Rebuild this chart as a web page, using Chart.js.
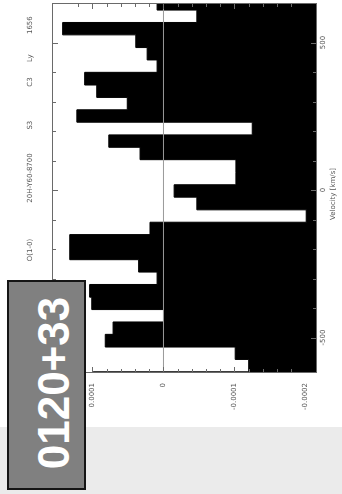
<!DOCTYPE html>
<html>
<head>
<meta charset="utf-8">
<script src="https://cdn.jsdelivr.net/npm/chart.js@4.4.0/dist/chart.umd.min.js"></script>
<style>
  html, body { margin: 0; padding: 0; background: #fff; }
  #wrap { position: relative; width: 342px; height: 494px; overflow: hidden; }
  #band { position: absolute; left: 0; top: 427px; width: 342px; height: 67px; background: #ebebeb; }
  #chart { position: absolute; left: 0; top: 0; filter: blur(0.5px); }
  #tag { position: absolute; left: 7px; top: 280px; width: 79px; height: 210px; box-sizing: border-box;
         background: #808080; border: 2px solid #151515; }
  #tag span { position: absolute; left: 45px; top: 101px; transform: translate(-50%, -50%) rotate(-90deg);
              font: bold 44px "Liberation Sans", Arial, sans-serif; line-height: 44px; color: #fff; white-space: nowrap; }
</style>
</head>
<body>
<div id="wrap">
  <div id="band"></div>
  <canvas id="chart" width="342" height="494"></canvas>
  <div id="tag"><span>0120+33</span></div>
</div>
<script>
// bin top edges (km/s), last entry closes the final bin
var velEdges = [652, 610, 568, 526, 483, 441, 399, 356, 314, 272, 230, 187, 145, 103, 60, 18,
  -24, -67, -109, -151, -193, -236, -278, -320, -363, -405, -447, -489, -532, -574, -616, -658];
// flux per bin, top to bottom
var fluxValues = [0.000009, -0.000047, 0.000142, 0.000039, 0.000023, 0.000009, 0.000111, 0.000094,
  0.000051, 0.000122, -0.000125, 0.000077, 0.000033, -0.000102, -0.000102, -0.000015,
  -0.000047, -0.000201, 0.000019, 0.000132, 0.000132, 0.000035, 0.000009, 0.000104,
  0.000101, 0.000000, 0.000071, 0.000082, -0.000101, -0.000120, 0.000099];

var fluxLabels = [0.0001, 0, -0.0001, -0.0002];
var fluxLabelText = ['0.0001', '0', '-0.0001', '-0.0002'];
var velLabels = [500, 0, -500];
var velLabelText = ['500', '0', '-500'];

// line identifications along the (rotated) top axis
var lineIds = ['1656', 'Ly', 'C3', 'S3', '20H-Y60-8700', 'O(1-0)'];
var lineIdVel = [559, 447, 366, 220, 41, -203];

var FLUX_MIN = -0.0002162, FLUX_MAX = 0.000157;
var VEL_MIN = -620, VEL_MAX = 634;

var spectrum = [];
for (var i = 0; i < fluxValues.length; i++) {
  spectrum.push({ x: fluxValues[i], y: velEdges[i] });
}
spectrum.push({ x: fluxValues[fluxValues.length - 1], y: velEdges[velEdges.length - 1] });

var framePlugin = {
  id: 'frame',
  afterDatasetsDraw: function(chart) {
    var ctx = chart.ctx, a = chart.chartArea;
    var xs = chart.scales.x, ys = chart.scales.y;
    ctx.save();
    ctx.strokeStyle = '#6a6a6a';
    ctx.lineWidth = 1;
    ctx.strokeRect(a.left + 0.5, a.top + 0.5, a.right - a.left - 1, a.bottom - a.top - 1);

    ctx.beginPath();
    xs.ticks.forEach(function(t) {
      var k = t.value / 0.00002;
      if (Math.abs(k - Math.round(k)) > 1e-6) return;
      var px = Math.round(xs.getPixelForValue(t.value)) + 0.5;
      var len = Math.round(k) % 5 === 0 ? 6 : 4;
      ctx.moveTo(px, a.top); ctx.lineTo(px, a.top + len);
      ctx.moveTo(px, a.bottom); ctx.lineTo(px, a.bottom - len);
    });
    ys.ticks.forEach(function(t) {
      if (t.value % 100 !== 0) return;
      var py = Math.round(ys.getPixelForValue(t.value)) + 0.5;
      var len = t.value % 500 === 0 ? 6 : 4;
      ctx.moveTo(a.left, py); ctx.lineTo(a.left + len, py);
      ctx.moveTo(a.right, py); ctx.lineTo(a.right - len, py);
    });
    ctx.stroke();

    ctx.fillStyle = '#555';
    ctx.font = '7px "DejaVu Sans"';
    ctx.textBaseline = 'middle';

    fluxLabels.forEach(function(v, i) {
      ctx.save();
      ctx.translate(xs.getPixelForValue(v), a.bottom + 10);
      ctx.rotate(-Math.PI / 2);
      ctx.textAlign = 'right';
      ctx.fillText(fluxLabelText[i], 0, 0);
      ctx.restore();
    });

    velLabels.forEach(function(v, i) {
      ctx.save();
      ctx.translate(a.right + 6, ys.getPixelForValue(v));
      ctx.rotate(-Math.PI / 2);
      ctx.textAlign = 'center';
      ctx.fillText(velLabelText[i], 0, 0);
      ctx.restore();
    });

    ctx.save();
    ctx.translate(a.right + 16, (a.top + a.bottom) / 2 + 6);
    ctx.rotate(-Math.PI / 2);
    ctx.textAlign = 'center';
    ctx.fillText('Velocity [km/s]', 0, 0);
    ctx.restore();

    lineIds.forEach(function(s, i) {
      ctx.save();
      ctx.translate(30, ys.getPixelForValue(lineIdVel[i]));
      ctx.rotate(-Math.PI / 2);
      ctx.textAlign = 'center';
      ctx.fillText(s, 0, 0);
      ctx.restore();
    });
    ctx.restore();
  }
};

new Chart(document.getElementById('chart'), {
  type: 'line',
  data: {
    datasets: [
      {
        data: [{ x: 0, y: VEL_MIN }, { x: 0, y: VEL_MAX }],
        borderColor: '#9a9a9a',
        borderWidth: 1,
        pointRadius: 0,
        fill: false,
        order: 0
      },
      {
        data: spectrum,
        stepped: 'after',
        borderColor: '#000',
        borderWidth: 1,
        backgroundColor: '#000',
        pointRadius: 0,
        fill: { value: FLUX_MIN },
        order: 1
      }
    ]
  },
  options: {
    indexAxis: 'y',
    responsive: false,
    animation: false,
    devicePixelRatio: 1,
    layout: { padding: { left: 52, top: 3, right: 25, bottom: 121 } },
    plugins: { legend: { display: false }, tooltip: { enabled: false } },
    scales: {
      x: {
        type: 'linear',
        reverse: true,
        min: FLUX_MIN,
        max: FLUX_MAX,
        ticks: { display: false, stepSize: 0.00002 },
        grid: { display: false, drawTicks: false },
        border: { display: false }
      },
      y: {
        type: 'linear',
        min: VEL_MIN,
        max: VEL_MAX,
        ticks: { display: false, stepSize: 100 },
        grid: { display: false, drawTicks: false },
        border: { display: false }
      }
    }
  },
  plugins: [framePlugin]
});
</script>
</body>
</html>
